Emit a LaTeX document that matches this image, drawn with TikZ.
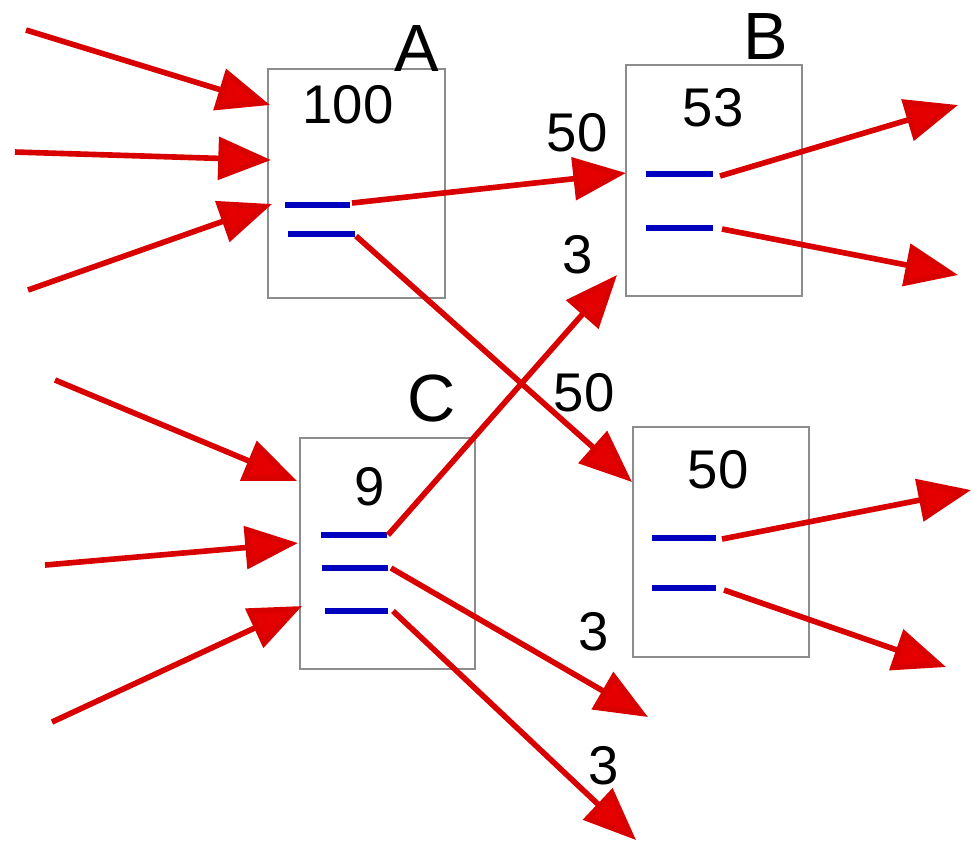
\documentclass[tikz,border=0pt]{standalone}
\usepackage{fontspec}
\setmainfont{Liberation Sans}
\usetikzlibrary{arrows.meta}
\begin{document}
\begin{tikzpicture}[x=0.01cm,y=-0.01cm,
  box/.style={draw=black!45,line width=0.5pt},
  port/.style={draw=blue!75!black,line width=1.6pt},
  link/.style={draw=red!85!black,line width=1.6pt,-{Triangle[length=15pt,width=12pt,fill=red!90!black]}},
  val/.style={font=\fontsize{15.5}{15.5}\selectfont},
  boxname/.style={font=\fontsize{19}{19}\selectfont}]
\useasboundingbox (0,0) rectangle (971,853);
% boxes
\draw[box] (268,69) rectangle (445,298);
\draw[box] (626,65) rectangle (802,296);
\draw[box] (300,438) rectangle (475,669);
\draw[box] (633,427) rectangle (809,657);
\node[boxname] (nA) at (417,48) {A};
\node[boxname] (nB) at (766,36) {B};
\node[boxname] (nC) at (432,398) {C};
\node[val] (vA) at (348,105) {100};
\node[val] (vB) at (713,108) {53};
\node[val] (vC) at (370,487) {9};
\node[val] (vD) at (718,470) {50};
% ports
\coordinate (a1s) at (285,205); \coordinate (a1) at (350,205);
\coordinate (a2s) at (288,234); \coordinate (a2) at (355,234);
\coordinate (b1s) at (646,174); \coordinate (b1) at (713,174);
\coordinate (b2s) at (646,228); \coordinate (b2) at (713,228);
\coordinate (c1s) at (321,535); \coordinate (c1) at (387,535);
\coordinate (c2s) at (322,568); \coordinate (c2) at (388,568);
\coordinate (c3s) at (325,611); \coordinate (c3) at (388,611);
\coordinate (d1s) at (652,538); \coordinate (d1) at (716,538);
\coordinate (d2s) at (652,588); \coordinate (d2) at (716,588);
\foreach \p in {a1,a2,b1,b2,c1,c2,c3,d1,d2} \draw[port] (\p s) -- (\p);
% link start points
\coordinate (sA1) at (352,203);
\coordinate (sA2) at (356,236);
\coordinate (sC1) at (388,535);
\coordinate (sC2) at (391,568);
\coordinate (sC3) at (393,611);
\coordinate (sB1) at (720,176);
\coordinate (sB2) at (722,229);
\coordinate (sD1) at (722,539);
\coordinate (sD2) at (724,590);
% free ends
\coordinate (iA1) at (26,30);   \coordinate (eA1) at (270,105);
\coordinate (iA2) at (15,152);  \coordinate (eA2) at (271,160);
\coordinate (iA3) at (28,290);  \coordinate (eA3) at (272,204);
\coordinate (iC1) at (55,380);  \coordinate (eC1) at (297,481);
\coordinate (iC2) at (45,565);  \coordinate (eC2) at (298,543);
\coordinate (iC3) at (52,722);  \coordinate (eC3) at (302,606);
\coordinate (eB) at (626,173);
\coordinate (eB2) at (617,275);
\coordinate (eD) at (632,482);
\coordinate (oC2) at (648,717);
\coordinate (oC3) at (636,840);
\coordinate (oB1) at (958,105);
\coordinate (oB2) at (958,275);
\coordinate (oD1) at (971,490);
\coordinate (oD2) at (946,667);
% links
\draw[link] (iA1) -- (eA1);
\draw[link] (iA2) -- (eA2);
\draw[link] (iA3) -- (eA3);
\draw[link] (iC1) -- (eC1);
\draw[link] (iC2) -- (eC2);
\draw[link] (iC3) -- (eC3);
\draw[link] (sA1) -- (eB);
\draw[link] (sA2) -- (eD);
\draw[link] (sC1) -- (eB2);
\draw[link] (sC2) -- (oC2);
\draw[link] (sC3) -- (oC3);
\draw[link] (sB1) -- (oB1);
\draw[link] (sB2) -- (oB2);
\draw[link] (sD1) -- (oD1);
\draw[link] (sD2) -- (oD2);
% labels
\node[val] (l1) at (577,133) {50};
\node[val] (l2) at (584,393) {50};
\node[val] (l3) at (578,255) {3};
\node[val] (l4) at (594,632) {3};
\node[val] (l5) at (604,766) {3};
\end{tikzpicture}
\end{document}
